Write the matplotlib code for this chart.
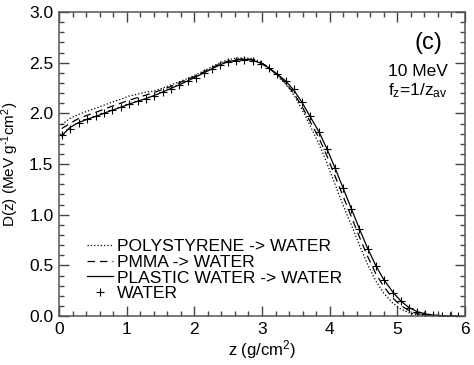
import matplotlib
matplotlib.use("Agg")
import matplotlib.pyplot as plt
from matplotlib.ticker import MultipleLocator

plt.rcParams['font.family'] = ['Liberation Sans', 'DejaVu Sans']
plt.rcParams['mathtext.fontset'] = 'custom'
plt.rcParams['mathtext.rm'] = 'Liberation Sans'
plt.rcParams['mathtext.it'] = 'Liberation Sans'

# depth (g/cm^2)
z = [0.04, 0.16, 0.29, 0.41, 0.54, 0.66, 0.78, 0.91, 1.03, 1.16,
     1.28, 1.40, 1.53, 1.65, 1.77, 1.90, 2.02, 2.14, 2.26, 2.38,
     2.50, 2.62, 2.74, 2.86, 2.98, 3.10, 3.22, 3.35, 3.47, 3.59,
     3.71, 3.84, 3.96, 4.08, 4.20, 4.32, 4.44, 4.56, 4.68, 4.80,
     4.93, 5.05, 5.17, 5.29, 5.41, 5.53, 5.66, 5.78, 5.90]

water = [1.79, 1.85, 1.91, 1.94, 1.97, 2.00, 2.03, 2.06, 2.09, 2.12,
         2.14, 2.17, 2.21, 2.24, 2.28, 2.32, 2.35, 2.40, 2.44, 2.48,
         2.51, 2.52, 2.53, 2.52, 2.49, 2.45, 2.39, 2.32, 2.24, 2.11,
         1.97, 1.82, 1.65, 1.46, 1.26, 1.06, 0.86, 0.665, 0.49, 0.355,
         0.23, 0.148, 0.083, 0.04, 0.02, 0.01, 0.005, 0.002, 0.001]

plastic_water = [1.78, 1.86, 1.91, 1.94, 1.97, 2.00, 2.03, 2.06, 2.09, 2.12,
                 2.145, 2.175, 2.21, 2.245, 2.28, 2.32, 2.36, 2.40, 2.44, 2.48,
                 2.51, 2.525, 2.535, 2.525, 2.495, 2.45, 2.39, 2.32, 2.23, 2.11,
                 1.97, 1.82, 1.65, 1.46, 1.26, 1.06, 0.86, 0.67, 0.50, 0.36,
                 0.24, 0.15, 0.085, 0.045, 0.022, 0.01, 0.005, 0.002, 0.001]

pmma = [1.85, 1.90, 1.95, 1.98, 2.01, 2.04, 2.07, 2.10, 2.13, 2.155,
        2.18, 2.205, 2.235, 2.265, 2.30, 2.335, 2.37, 2.41, 2.45, 2.49,
        2.515, 2.53, 2.54, 2.53, 2.50, 2.45, 2.38, 2.30, 2.20, 2.07,
        1.92, 1.76, 1.58, 1.38, 1.18, 0.98, 0.78, 0.59, 0.42, 0.29,
        0.18, 0.105, 0.055, 0.025, 0.011, 0.005, 0.002, 0.001, 0.0]

polystyrene = [1.89, 1.95, 1.99, 2.02, 2.05, 2.08, 2.11, 2.14, 2.17, 2.19,
               2.21, 2.22, 2.25, 2.28, 2.31, 2.345, 2.38, 2.42, 2.46, 2.50,
               2.53, 2.545, 2.55, 2.54, 2.51, 2.45, 2.38, 2.29, 2.18, 2.04,
               1.88, 1.70, 1.51, 1.30, 1.09, 0.90, 0.70, 0.51, 0.35, 0.225,
               0.13, 0.07, 0.033, 0.014, 0.006, 0.002, 0.001, 0.0, 0.0]

fig = plt.figure(figsize=(4.74, 3.65), dpi=100)
ax = fig.add_axes([0.1245, 0.134, 0.8565, 0.833])

ax.plot(z, polystyrene, ':', color='black', lw=0.9, label='POLYSTYRENE -> WATER')
ax.plot(z, pmma, '--', color='black', lw=0.9, dashes=(6, 4), label='PMMA -> WATER')
ax.plot(z, plastic_water, '-', color='black', lw=0.9, label='PLASTIC WATER -> WATER')
ax.plot(z, water, '+', color='black', ms=5.5, mew=0.8, label='WATER')

ax.set_xlim(0, 6)
ax.set_ylim(0, 3.0)
ax.xaxis.set_major_locator(MultipleLocator(1))
ax.xaxis.set_minor_locator(MultipleLocator(0.2))
ax.yaxis.set_major_locator(MultipleLocator(0.5))
ax.yaxis.set_minor_locator(MultipleLocator(0.1))
ax.yaxis.set_major_formatter(plt.FormatStrFormatter('%.1f'))
ax.tick_params(which='both', direction='in', top=True, right=True,
               labelsize=12.5, color='#444444', width=1)
ax.tick_params(which='major', length=7, pad=4)
ax.tick_params(which='minor', length=3.5)
for s in ax.spines.values():
    s.set_color('#555555')
    s.set_linewidth(1.1)

ax.set_xlabel('z (g/cm$^2$)', fontsize=12, labelpad=1)
ax.set_ylabel(r'D(z) (MeV g$^{\text{-}1}$cm$^2$)', fontsize=11, labelpad=6)

ax.text(0.909, 0.898, '(c)', transform=ax.transAxes, fontsize=17,
        ha='center', va='center')
ax.text(0.884, 0.803, '10 MeV', transform=ax.transAxes, fontsize=12.5,
        ha='center', va='center')
ax.text(0.884, 0.743, 'f$_z$=1/z$_{av}$', transform=ax.transAxes, fontsize=12.5,
        ha='center', va='center')

ax.legend(loc='upper left', bbox_to_anchor=(0.068, 0.253), frameon=False,
          fontsize=12.6, handlelength=1.5, handletextpad=0.25,
          labelspacing=0.02, borderpad=0, borderaxespad=0)

fig.savefig('out.png', dpi=100)
